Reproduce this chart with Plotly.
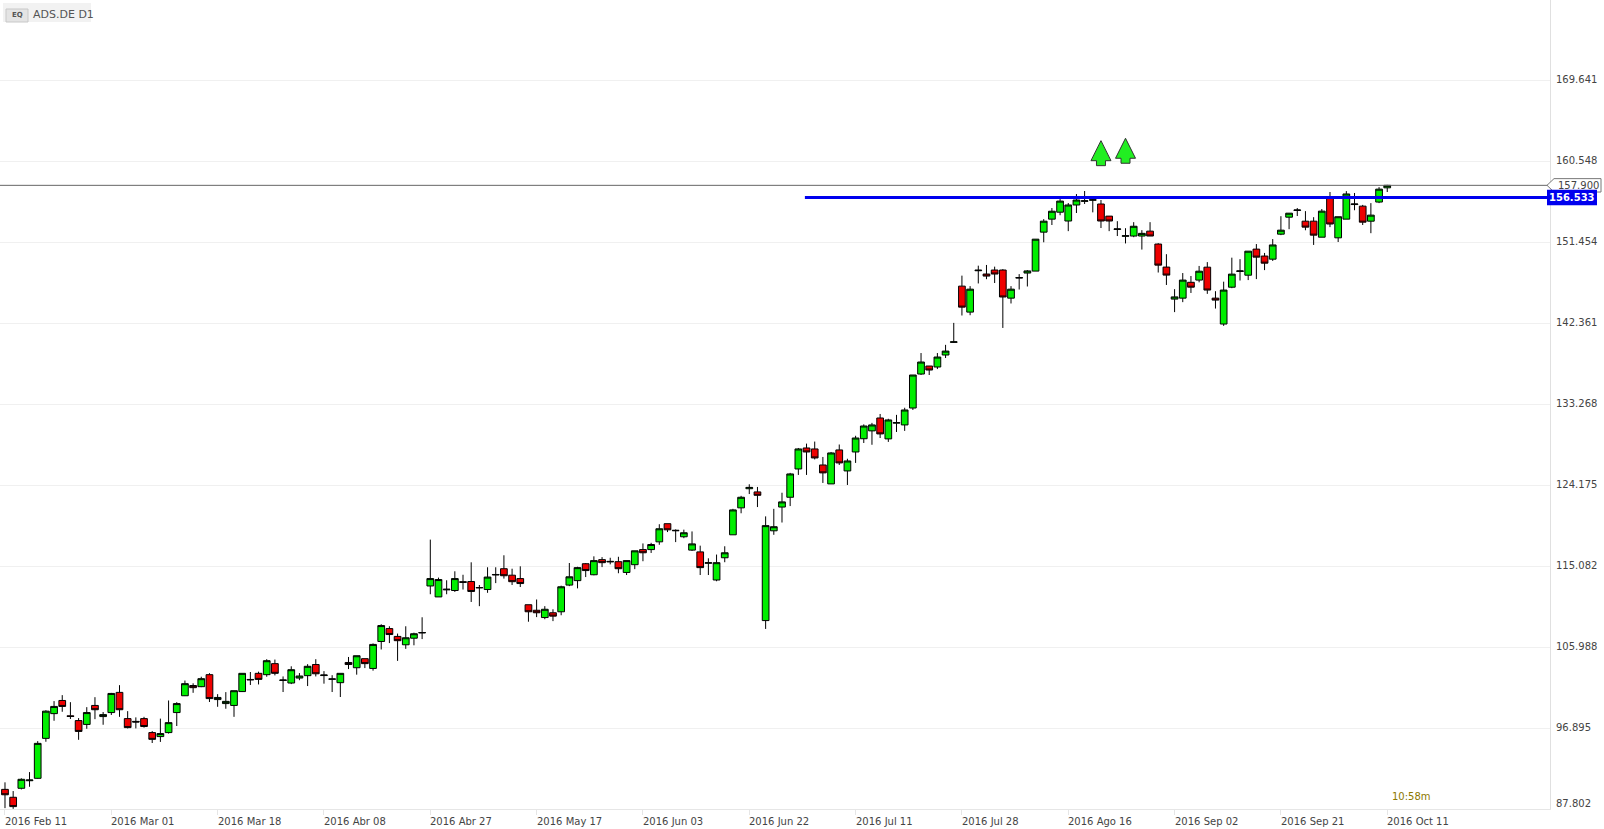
import pandas as pd
import plotly.graph_objects as go

# ---------------- data ----------------
holidays = ["2016-03-25", "2016-03-28", "2016-05-16", "2016-10-03"]
dates = [d.strftime("%Y-%m-%d") for d in pd.bdate_range("2016-02-11", "2016-10-11")
         if d.strftime("%Y-%m-%d") not in holidays]

opens = [90.01, 89.12, 90.13, 90.98, 91.25, 95.74, 98.52, 100.00, 98.28, 97.74,
         97.31, 99.44, 98.19, 98.64, 100.91, 97.96, 97.65, 97.96, 96.39, 95.94,
         96.39, 98.64, 100.53, 101.68, 101.55, 102.90, 100.10, 99.65, 99.44, 101.00,
         102.30, 103.05, 102.90, 104.14, 102.25, 101.96, 102.52, 102.79, 104.04, 102.80,
         102.38, 102.00, 104.27, 103.68, 104.70, 103.60, 106.63, 108.08, 107.20, 106.26,
         107.00, 107.58, 112.87, 111.64, 112.43, 112.36, 113.35, 113.37, 112.65, 112.47,
         114.10, 114.81, 114.08, 113.70, 110.76, 110.14, 109.32, 109.86, 109.97, 112.97,
         113.47, 115.37, 114.13, 115.83, 115.57, 115.60, 114.39, 115.26, 116.96, 116.96,
         117.83, 119.87, 119.07, 118.40, 116.90, 116.70, 115.42, 113.54, 116.04, 118.62,
         121.65, 123.80, 123.44, 108.98, 119.07, 121.74, 122.84, 126.02, 128.38, 128.27,
         126.47, 124.34, 128.16, 125.80, 127.93, 129.42, 130.30, 131.75, 129.40, 131.17,
         130.97, 132.87, 136.69, 137.59, 137.48, 138.83, 140.25, 146.57, 143.65, 148.30,
         147.93, 148.38, 148.38, 145.22, 147.47, 148.04, 148.26, 152.64, 154.10, 154.88,
         153.89, 155.69, 156.10, 156.22, 155.80, 154.44, 152.94, 152.17, 152.20, 152.20,
         152.75, 151.30, 148.71, 145.11, 145.22, 147.00, 147.25, 148.70, 145.22, 142.31,
         146.45, 148.22, 147.80, 150.73, 149.95, 149.60, 152.41, 154.32, 155.07, 153.87,
         153.87, 152.07, 156.47, 152.00, 154.10, 155.74, 155.56, 153.87, 156.02, 157.62]
highs = [90.80, 89.82, 91.25, 91.95, 95.43, 98.90, 99.93, 100.60, 99.81, 98.02,
         99.25, 100.37, 98.70, 100.85, 101.72, 98.80, 98.10, 98.16, 96.56, 97.96,
         100.00, 99.81, 102.24, 101.93, 102.67, 103.07, 100.71, 100.94, 101.10, 103.05,
         103.20, 103.24, 104.64, 104.60, 102.70, 103.84, 103.08, 104.08, 104.64, 103.30,
         102.84, 103.05, 104.89, 105.03, 104.70, 106.41, 108.57, 108.34, 107.52, 108.34,
         107.62, 109.35, 118.08, 113.81, 113.51, 114.52, 114.13, 115.53, 112.98, 114.97,
         114.97, 116.32, 114.81, 115.08, 110.76, 111.35, 110.60, 110.25, 112.90, 115.45,
         115.03, 115.45, 116.20, 116.11, 116.04, 116.15, 115.72, 116.82, 117.65, 117.72,
         119.81, 119.87, 119.23, 119.20, 119.00, 117.40, 115.98, 116.40, 117.33, 121.54,
         123.00, 124.30, 124.00, 120.69, 121.54, 123.35, 125.58, 128.38, 128.87, 129.10,
         127.37, 127.93, 128.77, 127.17, 129.75, 131.03, 131.20, 132.20, 131.66, 132.10,
         132.90, 136.58, 139.05, 137.59, 139.05, 139.97, 142.44, 147.75, 146.57, 148.87,
         148.95, 148.76, 148.48, 146.57, 147.92, 148.38, 151.85, 154.10, 155.35, 156.36,
         155.91, 156.92, 157.26, 156.70, 156.25, 154.44, 153.87, 153.08, 153.76, 152.86,
         153.76, 151.40, 150.16, 146.23, 148.04, 147.71, 148.84, 149.27, 146.00, 147.07,
         149.77, 149.60, 150.50, 151.30, 150.30, 151.86, 154.43, 154.77, 155.35, 155.00,
         154.32, 155.24, 157.15, 154.37, 157.25, 157.04, 155.70, 155.90, 157.70, 157.95]
lows = [87.90, 87.82, 90.00, 90.30, 91.20, 95.36, 97.72, 98.73, 97.92, 95.58,
        96.82, 97.90, 97.27, 98.37, 98.16, 96.86, 96.86, 96.95, 95.22, 95.34,
        96.28, 97.13, 100.50, 100.86, 101.50, 99.83, 99.29, 99.07, 98.16, 100.95,
        101.74, 101.80, 102.67, 102.82, 100.95, 101.84, 102.28, 101.62, 102.70, 101.89,
        100.95, 100.39, 103.53, 102.90, 103.64, 103.35, 105.73, 106.45, 104.45, 105.80,
        106.20, 106.90, 111.94, 111.64, 111.94, 112.20, 112.47, 111.07, 110.60, 112.10,
        113.19, 113.70, 112.98, 112.75, 108.85, 109.37, 109.13, 108.92, 109.58, 112.85,
        112.60, 113.87, 114.07, 114.99, 115.30, 114.30, 114.10, 114.76, 115.65, 116.58,
        117.50, 118.93, 117.80, 118.24, 116.80, 114.10, 114.10, 113.40, 115.54, 118.62,
        121.04, 123.20, 121.74, 108.04, 118.62, 120.00, 121.85, 125.35, 125.35, 127.09,
        124.45, 124.34, 126.47, 124.22, 126.70, 128.94, 128.74, 129.50, 129.06, 130.18,
        130.30, 132.65, 136.58, 136.58, 137.25, 138.49, 140.20, 143.27, 143.30, 146.87,
        147.35, 146.92, 141.87, 144.62, 146.19, 146.53, 148.26, 151.50, 153.44, 154.54,
        152.75, 154.79, 155.80, 154.86, 153.10, 152.75, 152.20, 151.37, 152.07, 150.68,
        152.20, 148.10, 146.70, 143.65, 144.77, 145.80, 147.00, 145.70, 144.05, 142.10,
        146.34, 147.20, 147.25, 147.36, 148.37, 149.40, 152.30, 152.97, 154.45, 152.85,
        151.20, 152.07, 153.20, 151.53, 154.10, 155.10, 153.44, 152.52, 155.90, 157.15]
closes = [89.40, 88.07, 91.14, 91.06, 95.18, 98.80, 99.33, 99.33, 98.20, 96.52,
          98.64, 98.96, 98.41, 100.79, 98.96, 96.95, 97.58, 97.07, 95.63, 96.28,
          97.51, 99.65, 101.89, 101.44, 102.45, 100.21, 100.34, 99.90, 101.10, 103.05,
          102.36, 102.37, 104.47, 103.05, 102.30, 103.46, 102.75, 103.84, 103.00, 102.86,
          102.42, 103.05, 104.04, 105.03, 104.14, 106.30, 108.42, 107.41, 106.72, 107.05,
          107.50, 107.64, 113.70, 113.59, 112.50, 113.70, 113.28, 112.25, 112.69, 113.87,
          114.16, 114.02, 113.35, 113.14, 109.97, 109.86, 110.25, 109.48, 112.78, 113.90,
          114.93, 114.60, 115.72, 115.49, 115.63, 114.81, 115.72, 116.82, 116.60, 117.53,
          119.30, 119.18, 119.12, 118.85, 117.60, 114.93, 115.48, 115.49, 116.60, 121.42,
          122.84, 123.95, 123.06, 119.65, 119.53, 122.32, 125.46, 128.27, 127.93, 127.26,
          125.58, 127.82, 126.70, 126.92, 129.50, 130.85, 130.97, 129.96, 131.53, 131.23,
          132.65, 136.58, 138.04, 137.14, 138.60, 139.27, 140.31, 144.21, 146.23, 148.36,
          147.70, 147.93, 145.35, 146.23, 147.53, 148.28, 151.85, 153.87, 154.99, 156.13,
          155.69, 156.25, 156.16, 156.28, 153.89, 153.89, 153.00, 152.23, 153.30, 152.50,
          152.20, 148.93, 147.81, 145.36, 147.25, 146.45, 148.25, 146.13, 145.00, 146.13,
          147.92, 148.28, 150.50, 149.83, 149.15, 151.20, 152.86, 154.77, 155.13, 153.20,
          152.30, 155.00, 153.55, 154.37, 156.93, 155.80, 153.76, 154.55, 157.47, 157.90]

tick_dates = ["2016-02-11", "2016-03-01", "2016-03-18", "2016-04-08", "2016-04-27",
              "2016-05-17", "2016-06-03", "2016-06-22", "2016-07-11", "2016-07-28",
              "2016-08-16", "2016-09-02", "2016-09-21", "2016-10-11"]
tick_labels = ["2016 Feb 11", "2016 Mar 01", "2016 Mar 18", "2016 Abr 08", "2016 Abr 27",
               "2016 May 17", "2016 Jun 03", "2016 Jun 22", "2016 Jul 11", "2016 Jul 28",
               "2016 Ago 16", "2016 Sep 02", "2016 Sep 21", "2016 Oct 11"]
y_ticks = [87.802, 96.895, 105.988, 115.082, 124.175, 133.268, 142.361, 151.454, 160.548, 169.641]

last_price = 157.900
level_price = 156.533
level_start_date = "2016-07-01"
signal_dates = ["2016-08-22", "2016-08-25"]
signal_tips = [162.92, 163.19]
title_text = "ADS.DE D1"
timer_text = "10:58m"

# ---------------- layout geometry ----------------
W, H = 1604, 829
ML, MR, MT, MB = 0, 54, 0, 20
PW, PH = W - ML - MR, H - MT - MB
Y_RANGE = [87.802, 178.73]
X_RANGE = [-0.61, 188.9]

def xp(px):
    return (px - ML) / PW

def yp(py):
    return (H - MB - py) / PH

pos = list(range(len(dates)))
idx = {d: i for i, d in enumerate(dates)}
px_per_idx = PW / (X_RANGE[1] - X_RANGE[0])
px_per_price = PH / (Y_RANGE[1] - Y_RANGE[0])

fig = go.Figure()
fig.add_trace(go.Candlestick(
    x=pos, open=opens, high=highs, low=lows, close=closes,
    increasing=dict(line=dict(color="#000000", width=1), fillcolor="#00ee00"),
    decreasing=dict(line=dict(color="#000000", width=1), fillcolor="#ee0000"),
    whiskerwidth=0, hoverinfo="skip", showlegend=False,
))

shapes = []
# title background
shapes.append(dict(type="rect", xref="paper", yref="paper", x0=xp(3), x1=xp(91), y0=yp(22), y1=yp(3),
                   fillcolor="#f2f2f2", line=dict(width=0), layer="below"))
shapes.append(dict(type="rect", xref="paper", yref="paper", x0=xp(6), x1=xp(28), y0=yp(22), y1=yp(9),
                   fillcolor="#e4e4e4", line=dict(color="#c8c8c8", width=1)))
# last price line
shapes.append(dict(type="line", xref="paper", yref="y", x0=0, x1=1, y0=last_price, y1=last_price,
                   line=dict(color="#666666", width=1)))
# horizontal level
shapes.append(dict(type="line", xref="x", yref="y", x0=idx[level_start_date] - 0.2, x1=X_RANGE[1],
                   y0=level_price, y1=level_price, line=dict(color="#0000ee", width=3)))

# signal arrows
head_w = 20 / px_per_idx / 2
stem_w = 9 / px_per_idx / 2
head_h = 20 / px_per_price
tot_h = 25 / px_per_price
for d, tip in zip(signal_dates, signal_tips):
    c = idx[d]
    pts = [(c, tip), (c + head_w, tip - head_h), (c + stem_w, tip - head_h), (c + stem_w, tip - tot_h),
           (c - stem_w, tip - tot_h), (c - stem_w, tip - head_h), (c - head_w, tip - head_h)]
    path = "M " + " L ".join(f"{a},{b}" for a, b in pts) + " Z"
    shapes.append(dict(type="path", xref="x", yref="y", path=path, fillcolor="#22ee22",
                       line=dict(color="#333333", width=1)))

# price tags on the right
def yprice(p):
    return (p - Y_RANGE[0]) / (Y_RANGE[1] - Y_RANGE[0])

lp_y = yprice(last_price)
half = 6.7 / PH
tag_pts = [(xp(1547), lp_y), (xp(1554), lp_y + half), (xp(1601), lp_y + half),
           (xp(1601), lp_y - half), (xp(1554), lp_y - half)]
shapes.append(dict(type="path", xref="paper", yref="paper",
                   path="M " + " L ".join(f"{a},{b}" for a, b in tag_pts) + " Z",
                   fillcolor="#ffffff", line=dict(color="#777777", width=1)))
lv_y = yprice(level_price)
shapes.append(dict(type="rect", xref="paper", yref="paper", x0=xp(1547), x1=xp(1597),
                   y0=lv_y - 7.8 / PH, y1=lv_y + 7.8 / PH, fillcolor="#0000ee", line=dict(width=0)))

annotations = []
axis_font = dict(family="DejaVu Sans", size=10, color="#444444")
for d, lab in zip(tick_dates, tick_labels):
    annotations.append(dict(x=idx[d], y=0, xref="x", yref="paper", text=lab, showarrow=False,
                            xanchor="left", yanchor="middle", yshift=-12, xshift=-2, font=axis_font))
for i, v in enumerate(y_ticks):
    annotations.append(dict(x=xp(1554), y=v, xref="paper", yref="y", text=f"{v:.3f}", showarrow=False,
                            xanchor="left", yanchor="middle", yshift=(6 if i == 0 else 1), font=axis_font))
annotations.append(dict(x=xp(17), y=yp(15.5), xref="paper", yref="paper", text="<b>EQ</b>",
                        xanchor="center", yanchor="middle",
                        showarrow=False, font=dict(family="DejaVu Sans", size=7, color="#555555")))
annotations.append(dict(x=xp(31), y=yp(14), xref="paper", yref="paper", text=title_text,
                        showarrow=False, xanchor="left", yanchor="middle",
                        font=dict(family="DejaVu Sans", size=11, color="#555555")))
annotations.append(dict(x=xp(1411), y=yp(796), xref="paper", yref="paper", text=timer_text,
                        showarrow=False, xanchor="center", yanchor="middle",
                        font=dict(family="DejaVu Sans", size=10, color="#8c7800")))
annotations.append(dict(x=xp(1578), y=lp_y, xref="paper", yref="paper", text=f"{last_price:.3f}",
                        showarrow=False, xanchor="center", yanchor="middle",
                        font=dict(family="DejaVu Sans", size=10, color="#444444")))
annotations.append(dict(x=xp(1572), y=lv_y, xref="paper", yref="paper", text=f"<b>{level_price:.3f}</b>",
                        showarrow=False, xanchor="center", yanchor="middle",
                        font=dict(family="DejaVu Sans", size=10, color="#ffffff")))

fig.update_layout(
    width=W, height=H, margin=dict(l=ML, r=MR, t=MT, b=MB, autoexpand=False),
    paper_bgcolor="#ffffff", plot_bgcolor="#ffffff",
    showlegend=False, boxgap=0.18, boxgroupgap=0,
    shapes=shapes, annotations=annotations,
    xaxis=dict(range=X_RANGE, rangeslider=dict(visible=False), showgrid=False, zeroline=False,
               tickvals=[idx[d] for d in tick_dates], ticktext=[""] * len(tick_dates),
               ticks="outside", ticklen=5, tickcolor="#e6e6e6", automargin=False,
               showline=True, linecolor="#e6e6e6", linewidth=1),
    yaxis=dict(range=Y_RANGE, side="right", tickvals=y_ticks, showticklabels=False,
               showgrid=True, gridcolor="#f0f0f0", zeroline=False, ticks="", automargin=False,
               showline=True, linecolor="#e0e0e0", linewidth=1),
)

fig.write_html("out.html", config={"displayModeBar": False},
               post_script="document.body.style.margin='0';document.body.style.overflow='hidden';")
